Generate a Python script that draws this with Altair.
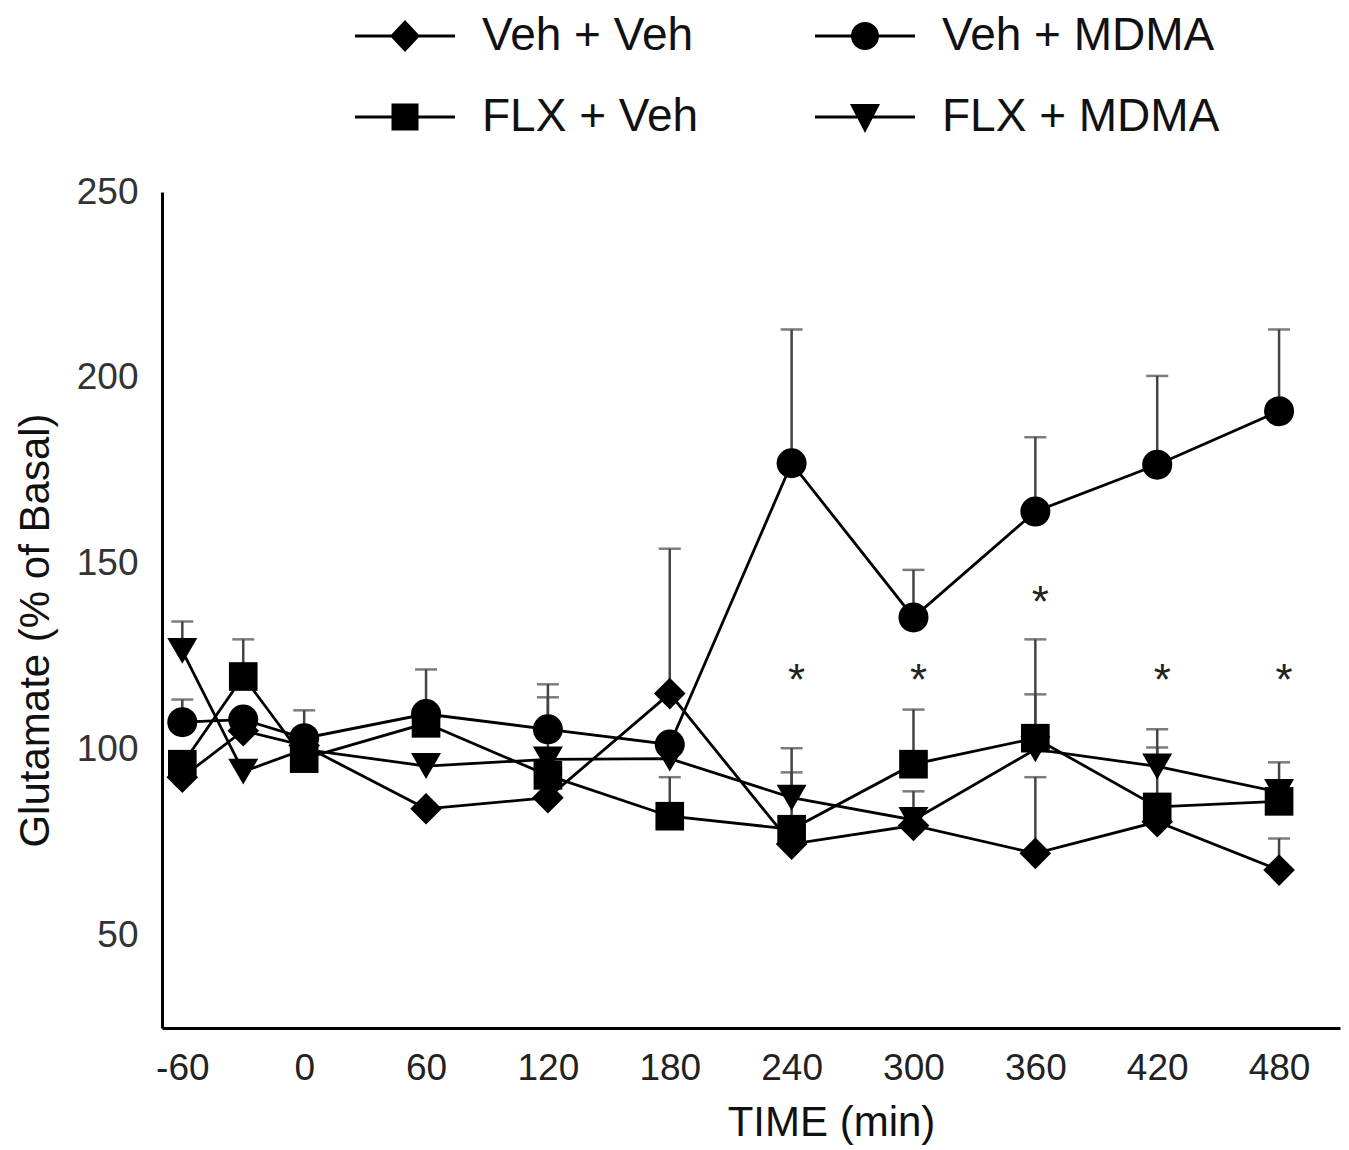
import altair as alt
import pandas as pd

# ---- data ----
times = [-60, -30, 0, 60, 120, 180, 240, 300, 360, 420, 480]
groups = ["Veh + Veh", "Veh + MDMA", "FLX + Veh", "FLX + MDMA"]

veh_veh = [92.5, 105, 101, 84, 87, 115, 74.5, 79.5, 72, 80.5, 67.5]
veh_mdma = [107.3, 108, 103, 109.5, 105.4, 101.3, 177, 135.5, 164, 176.6, 191]
flx_veh = [96, 119.6, 97.5, 107, 93, 82, 78.5, 96, 103, 84.5, 86]
flx_mdma = [126.5, 94, 100, 95.5, 97.3, 97.5, 87, 81, 100, 95.4, 88.5]

# upper end of the (one-sided) SEM bars; None where no bar is visible
veh_veh_up = [None, None, None, None, None, 154, None, None, 92.5, None, 76]
veh_mdma_up = [113.4, None, 110.5, 121.5, 117.5, None, 213, 148.3, 184, 200.5, 213]
flx_veh_up = [None, 129.6, None, None, None, 92.5, 93.8, 110.7, 114.8, 100.5, 96.5]
flx_mdma_up = [134.4, None, None, None, 114, None, 100.3, 88.7, 129.6, 105.4, None]

star_times = [240, 300, 360, 420, 480]
star_values = [120, 120, 141, 120, 120]

x_ticks = [-60, 0, 60, 120, 180, 240, 300, 360, 420, 480]
y_ticks = [50, 100, 150, 200, 250]

# ---- build tables ----
series = [veh_veh, veh_mdma, flx_veh, flx_mdma]
uppers = [veh_veh_up, veh_mdma_up, flx_veh_up, flx_mdma_up]
rows = []
for g, vals, ups in zip(groups, series, uppers):
    for t, v, u in zip(times, vals, ups):
        rows.append({"time": t, "value": v, "upper": u, "group": g})
df = pd.DataFrame(rows)
err = df.dropna(subset=["upper"])
stars = pd.DataFrame({"time": star_times, "value": star_values})

FONT = "Liberation Sans"
W, H = 1178, 836

xs = alt.Scale(domain=[-70, 510], nice=False, zero=False)
ys = alt.Scale(domain=[25, 250], nice=False, zero=False)

x_axis = alt.Axis(values=x_ticks, labelExpr="'' + datum.value", grid=False,
                  ticks=False, domainColor="black", domainWidth=3,
                  labelFontSize=37, labelFont=FONT, labelColor="#222",
                  labelPadding=22, title="TIME (min)", titleFont=FONT,
                  titleFontSize=42, titleFontWeight="normal", titleColor="#111",
                  titleX=669, titleY=74, titleBaseline="top")
y_axis = alt.Axis(values=y_ticks, format="d", grid=False, ticks=False,
                  domainColor="black", domainWidth=3, labelFontSize=37,
                  labelFont=FONT, labelColor="#333", labelPadding=24,
                  title="Glutamate (% of Basal)", titleFont=FONT,
                  titleFontSize=42, titleFontWeight="normal", titleColor="#111",
                  titleX=-127, titleY=438, titleBaseline="middle",
                  titleAngle=-90)

X = alt.X("time:Q", scale=xs, axis=x_axis)
Y = alt.Y("value:Q", scale=ys, axis=y_axis)

std_shapes = ["diamond", "circle", "square", "triangle-down"]
std_sizes = [1000, 900, 820, 900]
# legend symbols: a thin filled bar (the line) plus the marker, all clockwise
BAR = "M-1,-0.028L1,-0.028L1,0.028L-1,0.028Z"
legend_paths = [
    BAR + "M0,-0.32L0.3,0L0,0.32L-0.3,0Z",
    BAR + "M-0.28,0A0.28,0.28,0,1,1,0.28,0A0.28,0.28,0,1,1,-0.28,0Z",
    BAR + "M-0.27,-0.27L0.27,-0.27L0.27,0.27L-0.27,0.27Z",
    BAR + "M-0.3,-0.26L0.3,-0.26L0,0.32Z",
]

base = alt.Chart(df)

err_rules = alt.Chart(err).mark_rule(color="#444", strokeWidth=2.5).encode(
    x=alt.X("time:Q", scale=xs), y=alt.Y("value:Q", scale=ys), y2="upper:Q")
err_caps = alt.Chart(err).mark_tick(color="#444", thickness=2.5, size=22,
                                    orient="horizontal").encode(
    x=alt.X("time:Q", scale=xs), y=alt.Y("upper:Q", scale=ys))

lines = base.mark_line(color="black", strokeWidth=2.8).encode(
    x=X, y=Y, detail="group:N", order="time:Q")

point_layers = []
for g, shp, sz in zip(groups, std_shapes, std_sizes):
    point_layers.append(
        base.transform_filter(alt.datum.group == g)
        .mark_point(filled=True, color="black", size=sz, opacity=1, shape=shp)
        .encode(x=X, y=Y))

legend_layer = base.mark_point(filled=True, color="black", opacity=0).encode(
    x=X, y=Y,
    shape=alt.Shape("group:N", scale=alt.Scale(domain=groups, range=legend_paths),
                    legend=alt.Legend(
                        title=None, orient="none", legendX=193, legendY=-206,
                        direction="horizontal",
                        columns=2, columnPadding=116, rowPadding=8,
                        symbolSize=10000, symbolOpacity=1,
                        symbolFillColor="black", symbolStrokeWidth=0,
                        labelFont=FONT, labelFontSize=46, labelColor="#111",
                        labelLimit=600, labelOffset=27, padding=0)))

star_text = alt.Chart(stars).mark_text(text="*", fontSize=44, font=FONT,
                                       color="#222", dx=5, dy=7,
                                       baseline="middle").encode(
    x=alt.X("time:Q", scale=xs), y=alt.Y("value:Q", scale=ys))

chart = alt.layer(err_rules, err_caps, lines, *point_layers, legend_layer,
                  star_text).properties(
    width=W, height=H,
    padding={"left": 162, "top": 192, "right": 9, "bottom": 122},
    autosize=alt.AutoSizeParams(type="none"),
    background="white",
).configure_view(stroke=None)

chart.save("out.html", embed_options={"renderer": "svg", "actions": False})
